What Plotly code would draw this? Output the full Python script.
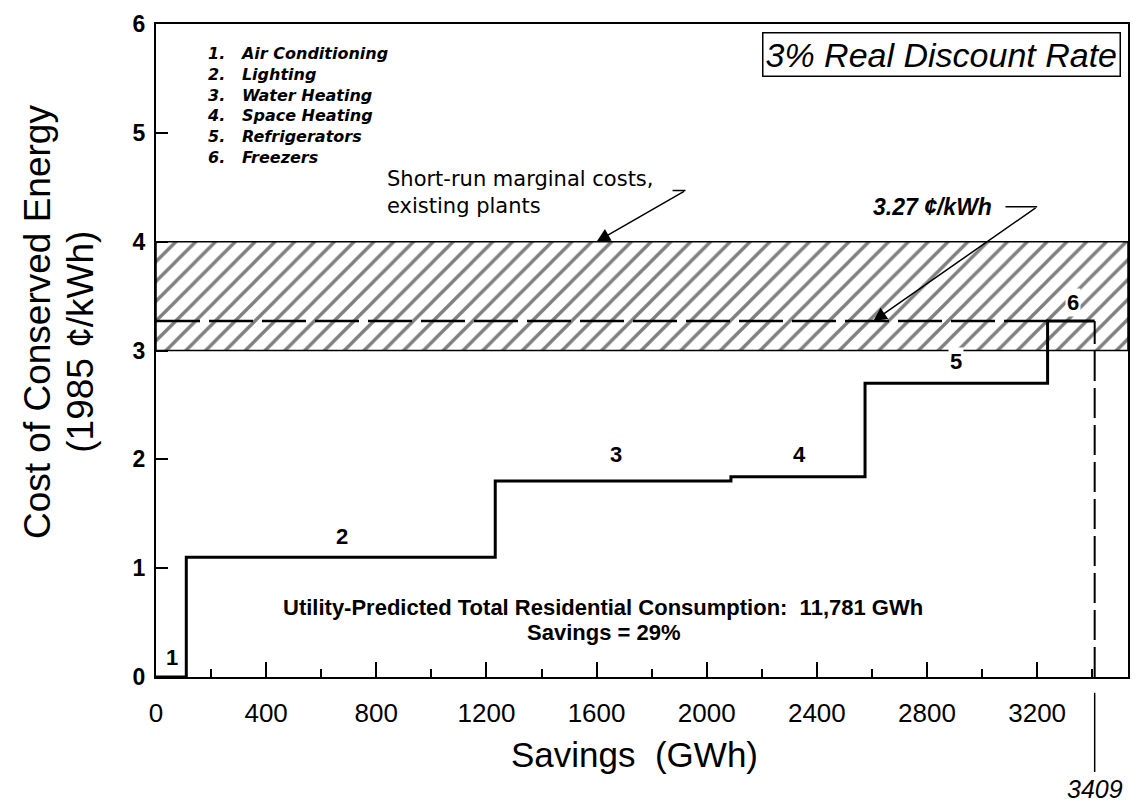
import plotly.graph_objects as go

# ---------------- data ----------------
step_x = [0, 110, 1232, 2088, 2575, 3238, 3409]          # cumulative savings (GWh)
step_y = [0.0, 1.10, 1.80, 1.84, 2.70, 3.27, 3.27]       # cost of conserved energy (1985 c/kWh)
step_labels = ["1", "2", "3", "4", "5", "6"]
label_x = [58, 676, 1669, 2336, 2907, 3330]
label_y = [0.18, 1.29, 2.04, 2.04, 2.90, 3.44]
end_uses = ["Air Conditioning", "Lighting", "Water Heating", "Space Heating",
            "Refrigerators", "Freezers"]
band_low, band_high = 3.0, 4.0            # short-run marginal costs, existing plants
cce_avg = 3.27                            # c/kWh
total_savings = 3409                      # GWh
dash_end = 3238
x_max = 3530
x_ticks = [0, 400, 800, 1200, 1600, 2000, 2400, 2800, 3200]
x_minor = [200, 600, 1000, 1400, 1800, 2200, 2600, 3000, 3400]
y_ticks = [0, 1, 2, 3, 4, 5, 6]

FONT = "Liberation Sans, Arial, sans-serif"
WIDE = "DejaVu Sans, Verdana, sans-serif"

# pixel helpers for paper-referenced annotations (plot area 156..1130 x 17..677)
def px(p):
    return (p - 156) / 974


def py(p):
    return (677 - p) / 660


fig = go.Figure()

# hatched band
fig.add_trace(go.Scatter(
    x=[0, x_max, x_max, 0, 0], y=[band_low, band_low, band_high, band_high, band_low],
    mode="lines", fill="toself", fillcolor="white",
    fillpattern=dict(shape="/", fgcolor="black", bgcolor="white", size=14, solidity=0.24),
    line=dict(color="black", width=1.5), hoverinfo="skip", showlegend=False))

# dashed average line
fig.add_trace(go.Scatter(
    x=[0, dash_end], y=[cce_avg, cce_avg], mode="lines",
    line=dict(color="black", width=2.5, dash="44px,9px"), showlegend=False))

# supply curve steps
fig.add_trace(go.Scatter(
    x=step_x, y=step_y, mode="lines", line_shape="hv",
    line=dict(color="black", width=3), showlegend=False))

# dashed vertical at total savings
fig.add_trace(go.Scatter(
    x=[total_savings, total_savings], y=[0, cce_avg], mode="lines",
    line=dict(color="black", width=2, dash="30px,7px"), showlegend=False))

# solid extension below axis
fig.add_shape(type="line", xref="x", yref="paper",
              x0=total_savings, x1=total_savings, y0=py(693), y1=py(773),
              line=dict(color="black", width=1.5))

ann = []
# step labels
for t, x, y in zip(step_labels, label_x, label_y):
    ann.append(dict(x=x, y=y, xref="x", yref="y", text=f"<b>{t}</b>", showarrow=False,
                    font=dict(family=FONT, size=22, color="black"),
                    bgcolor="white" if t in ("5", "6") else None, borderpad=1))

# legend list (one block, tight line spacing like the original)
legend_text = "<br>".join(f"<b><i>{i+1}.&nbsp;&nbsp;&nbsp;{name}</i></b>"
                          for i, name in enumerate(end_uses))
ann.append(dict(x=px(205), y=py(35), xref="paper", yref="paper",
                xanchor="left", yanchor="top", align="left", showarrow=False,
                text=legend_text,
                font=dict(family=WIDE, size=16, color="black")))

# discount rate box
ann.append(dict(x=px(1123), y=py(48), xref="paper", yref="paper",
                xanchor="right", yanchor="middle", showarrow=False,
                text="<i>3% Real Discount Rate</i>",
                font=dict(family=FONT, size=34, color="black"),
                bordercolor="black", borderwidth=1.5, borderpad=2, bgcolor="white"))

# short-run marginal costs
ann.append(dict(x=px(385), y=py(160), xref="paper", yref="paper",
                xanchor="left", yanchor="top", align="left", showarrow=False,
                text="Short-run marginal costs,<br>existing plants",
                font=dict(family=WIDE, size=21, color="black")))
ann.append(dict(x=1600, y=band_high, xref="x", yref="y", text="",
                showarrow=True, axref="x", ayref="y", ax=1923, ay=4.47,
                arrowhead=2, arrowsize=1.8, arrowwidth=1.5, arrowcolor="black"))
fig.add_shape(type="line", xref="x", yref="y", x0=1876, x1=1923, y0=4.47, y1=4.47,
              line=dict(color="black", width=1.5))

# 3.27 c/kWh
ann.append(dict(x=2820, y=4.32, xref="x", yref="y", showarrow=False,
                text="<b><i>3.27 ¢/kWh</i></b>",
                font=dict(family=FONT, size=23, color="black")))
fig.add_shape(type="line", xref="x", yref="y", x0=3085, x1=3200, y0=4.32, y1=4.32,
              line=dict(color="black", width=1.5))
ann.append(dict(x=2605, y=cce_avg, xref="x", yref="y", text="",
                showarrow=True, axref="x", ayref="y", ax=3200, ay=4.32,
                arrowhead=2, arrowsize=1.8, arrowwidth=1.5, arrowcolor="black"))

# consumption note
ann.append(dict(x=px(604), y=py(607), xref="paper", yref="paper", showarrow=False,
                xanchor="center", yanchor="middle",
                text="<b>Utility-Predicted Total Residential Consumption:&nbsp;&nbsp;11,781 GWh</b>",
                font=dict(family=FONT, size=22, color="black")))
ann.append(dict(x=px(604), y=py(632), xref="paper", yref="paper", showarrow=False,
                xanchor="center", yanchor="middle",
                text="<b>Savings = 29%</b>",
                font=dict(family=FONT, size=22, color="black")))

# 3409 label
ann.append(dict(x=total_savings, y=py(790), xref="x", yref="paper", showarrow=False,
                xanchor="center", yanchor="middle", text=f"<i>{total_savings}</i>",
                font=dict(family=FONT, size=25, color="black")))

# axis titles
ann.append(dict(x=px(635), y=py(755), xref="paper", yref="paper",
                xanchor="center", yanchor="middle",
                showarrow=False, text="Savings&nbsp;&nbsp;(GWh)",
                font=dict(family=FONT, size=35, color="black")))
ann.append(dict(x=px(38), y=py(318), xref="paper", yref="paper",
                xanchor="center", yanchor="middle",
                showarrow=False, textangle=-90, text="Cost of Conserved Energy",
                font=dict(family=FONT, size=37, color="black")))
ann.append(dict(x=px(80), y=py(338), xref="paper", yref="paper",
                xanchor="center", yanchor="middle",
                showarrow=False, textangle=-90, text="(1985 ¢/kWh)",
                font=dict(family=FONT, size=37, color="black")))

fig.update_layout(
    width=1141, height=806,
    margin=dict(l=156, r=11, t=17, b=129),
    paper_bgcolor="white", plot_bgcolor="white",
    annotations=ann, showlegend=False,
    font=dict(family=FONT, color="black"),
)
fig.update_xaxes(
    range=[0, x_max], tickmode="array", tickvals=x_ticks,
    ticktext=[str(v) for v in x_ticks],
    ticks="inside", ticklen=15, tickwidth=2, tickcolor="black",
    minor=dict(tickmode="array", tickvals=x_minor,
               ticks="inside", ticklen=8, tickwidth=1.5, tickcolor="black"),
    showline=True, linewidth=2, linecolor="black", mirror=True,
    showgrid=False, zeroline=False, ticklabelstandoff=12,
    tickfont=dict(family=FONT, size=26, color="black"))
fig.update_yaxes(
    range=[0, 6], tickmode="array", tickvals=y_ticks,
    ticks="inside", ticklen=12, tickwidth=2, tickcolor="black",
    showline=True, linewidth=2, linecolor="black", mirror=True,
    showgrid=False, zeroline=False, ticklabelstandoff=4,
    tickfont=dict(family=FONT, size=23, color="black", weight="bold"))

fig.write_html("out.html", config={"displayModeBar": False},
               post_script="document.body.style.margin='0';")
